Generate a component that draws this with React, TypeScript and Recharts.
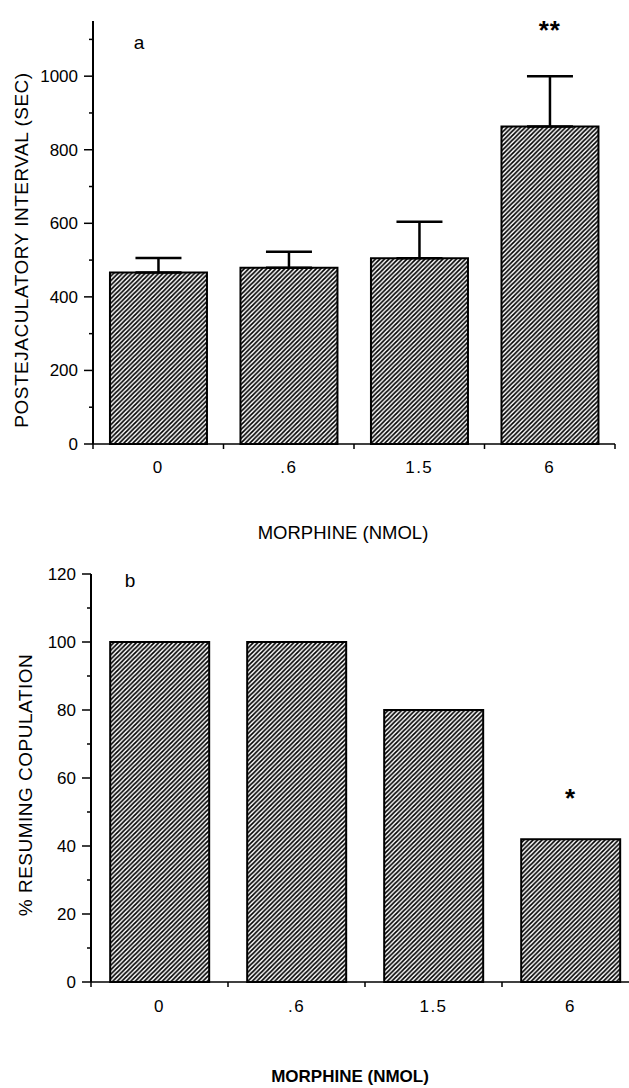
import { BarChart, Bar, XAxis, YAxis, ErrorBar, ReferenceDot } from "recharts";

const doses = ["0", ".6", "1.5", "6"];
const intervalSec = [466, 479, 505, 863];
const intervalSem = [40, 44, 99, 137];
const intervalSig = ["", "", "", "**"];
const resumingPct = [100, 100, 80, 42];
const resumingSig = ["", "", "", "*"];
const intervalTicks = [0, 100, 200, 300, 400, 500, 600, 700, 800, 900, 1000, 1100];
const resumingTicks = [0, 10, 20, 30, 40, 50, 60, 70, 80, 90, 100, 110, 120];

const FONT = "'Liberation Sans', Arial, Helvetica, sans-serif";

const topData = doses.map((d, i) => ({
  dose: d,
  value: intervalSec[i],
  sem: [0, intervalSem[i]],
}));
const bottomData = doses.map((d, i) => ({ dose: d, value: resumingPct[i] }));

// where the significance stars sit (data units)
const topStarY = 1141;
const bottomStarY = 56;

const makeYTick = (major: number) => (props: any) => {
  const { x, y, payload } = props;
  const isMajor = payload.value % major === 0;
  return (
    <g>
      <line x1={x - (isMajor ? 9 : 4)} x2={x} y1={y} y2={y} stroke="#000" strokeWidth={1.5} />
      {isMajor && (
        <text x={x - 15} y={y} dy={6} textAnchor="end" fontSize={17} fontFamily={FONT} fill="#000">
          {payload.value}
        </text>
      )}
    </g>
  );
};

const makeXTick = (band: number, labelDy: number) => (props: any) => {
  const { x, y, payload, index } = props;
  return (
    <g>
      <line x1={x - band / 2} x2={x - band / 2} y1={y} y2={y + 5} stroke="#000" strokeWidth={1.5} />
      {index === doses.length - 1 && (
        <line x1={x + band / 2} x2={x + band / 2} y1={y} y2={y + 5} stroke="#000" strokeWidth={1.5} />
      )}
      <text x={x} y={y + labelDy} textAnchor="middle" fontSize={17} fontFamily={FONT} fill="#000" letterSpacing={1.5}>
        {payload.value}
      </text>
    </g>
  );
};

const starShape = (text: string) => (props: any) => (
  <text x={props.cx} y={props.cy + 15} textAnchor="middle" fontSize={26} fontWeight="bold" fontFamily={FONT} fill="#000" letterSpacing={1}>
    {text}
  </text>
);

const overlay = (extra: React.CSSProperties): React.CSSProperties => ({
  position: "absolute",
  fontFamily: FONT,
  color: "#000",
  whiteSpace: "nowrap",
  lineHeight: 1,
  ...extra,
});

export default function App() {
  const topW = 629;
  const topBand = (topW - 93 - 14) / doses.length;
  const botW = 645;
  const botBand = (botW - 91 - 6) / doses.length;

  return (
    <div style={{ position: "relative", width: 629, height: 1088, overflow: "hidden", background: "#fff" }}>
      <style>{"body{margin:0}"}</style>
      <svg width={0} height={0} style={{ position: "absolute" }}>
        <defs>
          <pattern id="hatch" patternUnits="userSpaceOnUse" width={4.5} height={4.5}>
            <rect width={4.5} height={4.5} fill="#fff" />
            <path d="M-1,1 l2,-2 M0,4.5 l4.5,-4.5 M3.5,5.5 l2,-2" stroke="#000" strokeWidth={1.7} />
          </pattern>
        </defs>
      </svg>

      <div style={{ position: "absolute", left: 0, top: 0 }}>
        <BarChart
          width={topW}
          height={545}
          data={topData}
          margin={{ top: 21, right: 14, left: 0, bottom: 0 }}
          barCategoryGap="13%"
        >
          <XAxis
            dataKey="dose"
            height={101}
            axisLine={{ stroke: "#000", strokeWidth: 1.5 }}
            tickLine={false}
            tickSize={0}
            tickMargin={0}
            interval={0}
            tick={makeXTick(topBand, 29)}
          />
          <YAxis
            width={93}
            domain={[0, 1150]}
            ticks={intervalTicks}
            interval={0}
            axisLine={{ stroke: "#000", strokeWidth: 2 }}
            tickLine={false}
            tickSize={0}
            tickMargin={0}
            tick={makeYTick(200)}
          />
          <Bar dataKey="value" fill="url(#hatch)" stroke="#000" strokeWidth={2} isAnimationActive={false}>
            <ErrorBar dataKey="sem" width={23} stroke="#000" strokeWidth={2.5} direction="y" />
          </Bar>
          {intervalSig.map((s, i) =>
            s ? <ReferenceDot key={i} x={doses[i]} y={topStarY} r={0} shape={starShape(s)} /> : null
          )}
        </BarChart>
      </div>

      <div style={{ position: "absolute", left: 0, top: 545 }}>
        <BarChart
          width={botW}
          height={543}
          data={bottomData}
          margin={{ top: 29, right: 6, left: 0, bottom: 0 }}
          barCategoryGap="14%"
        >
          <XAxis
            dataKey="dose"
            height={106}
            axisLine={{ stroke: "#000", strokeWidth: 1.5 }}
            tickLine={false}
            tickSize={0}
            tickMargin={0}
            interval={0}
            tick={makeXTick(botBand, 30)}
          />
          <YAxis
            width={91}
            domain={[0, 120]}
            ticks={resumingTicks}
            interval={0}
            axisLine={{ stroke: "#000", strokeWidth: 2 }}
            tickLine={false}
            tickSize={0}
            tickMargin={0}
            tick={makeYTick(20)}
          />
          <Bar dataKey="value" fill="url(#hatch)" stroke="#000" strokeWidth={2} isAnimationActive={false} />
          {resumingSig.map((s, i) =>
            s ? <ReferenceDot key={i} x={doses[i]} y={bottomStarY} r={0} shape={starShape(s)} /> : null
          )}
        </BarChart>
      </div>

      <div style={overlay({ left: 139, top: 42, fontSize: 19, transform: "translate(-50%,-50%)" })}>a</div>
      <div style={overlay({ left: 130, top: 580, fontSize: 19, transform: "translate(-50%,-50%)" })}>b</div>

      <div style={overlay({ left: 21, top: 250, fontSize: 19, letterSpacing: 0.5, transform: "translate(-50%,-50%) rotate(-90deg)" })}>
        POSTEJACULATORY INTERVAL (SEC)
      </div>
      <div style={overlay({ left: 25, top: 785, fontSize: 19, letterSpacing: 0.5, transform: "translate(-50%,-50%) rotate(-90deg)" })}>
        % RESUMING COPULATION
      </div>

      <div style={overlay({ left: 343, top: 533, fontSize: 18.5, transform: "translate(-50%,-50%)" })}>
        MORPHINE (NMOL)
      </div>
      <div style={overlay({ left: 350, top: 1076, fontSize: 17, fontWeight: "bold", transform: "translate(-50%,-50%)" })}>
        MORPHINE (NMOL)
      </div>
    </div>
  );
}
